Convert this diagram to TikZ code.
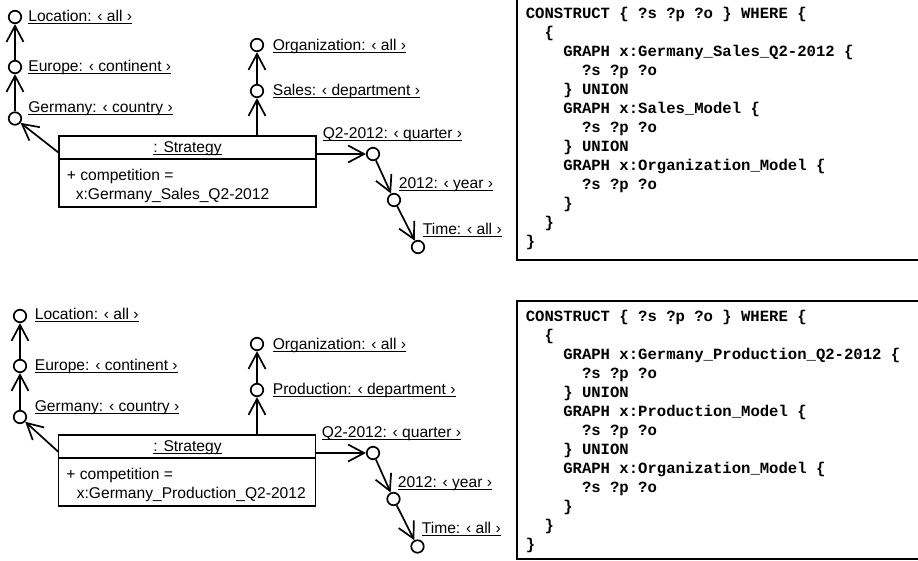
\documentclass[tikz,border=0pt]{standalone}
\usepackage{fontspec}
\setmainfont{Liberation Sans}
\newfontfamily\codefont{Liberation Mono}
\usetikzlibrary{arrows.meta}
\newsavebox\ulbox
\newcommand\ulbl[1]{\sbox\ulbox{#1}\rlap{\rule[-2.6pt]{\wd\ulbox}{1pt}}\usebox\ulbox}
\newcommand\indt[1]{\phantom{#1}}
\begin{document}
\begin{tikzpicture}[x=1pt,y=-1pt,line width=1.7pt,
  ball/.style={circle,draw,minimum size=12.5pt,inner sep=0pt},
  arr/.style={-{Straight Barb[length=16pt,width=17pt]}},
  lbl/.style={anchor=base west,inner sep=0pt,font=\fontsize{15.6}{18}\selectfont},
  objbox/.style={draw,anchor=north west,outer sep=0pt,inner sep=0pt,minimum width=257pt,minimum height=71pt},
  frame/.style={draw,anchor=north west,outer sep=0pt,inner sep=0pt,minimum width=420pt},
  code/.style={anchor=base west,inner sep=0pt,font=\codefont\bfseries\fontsize{15.6}{19}\selectfont}
]
\useasboundingbox (0,0) rectangle (918,560);

% ---------------- top diagram ----------------
\node[ball] (l1) at (15,17) {};
\node[ball] (e1) at (15,67) {};
\node[ball] (g1) at (15,118.5) {};
\node[lbl] (ll1) at (27.5,21) {\ulbl{Location: ‹ all ›}};
\node[lbl] (le1) at (27.5,71) {\ulbl{Europe: ‹ continent ›}};
\node[lbl] (lg1) at (27.5,112) {\ulbl{Germany: ‹ country ›}};

\node[ball] (o1) at (257,45) {};
\node[ball] (s1) at (257,91) {};
\node[lbl] (lo1) at (272,50.5) {\ulbl{Organization: ‹ all ›}};
\node[lbl] (ls1) at (272,95.5) {\ulbl{Sales: ‹ department ›}};

\node[ball] (q1) at (373,154) {};
\node[ball] (y1) at (394,200) {};
\node[ball] (t1) at (418,247) {};
\node[lbl] (lq1) at (322,138) {\ulbl{Q2-2012: ‹ quarter ›}};
\node[lbl] (ly1) at (398,188) {\ulbl{2012: ‹ year ›}};
\node[lbl] (lt1) at (422,234.5) {\ulbl{Time: ‹ all ›}};

\node[objbox] (b1) at (59,136) {};
\coordinate (d1) at (0,159);
\draw (b1.west |- d1) -- (b1.east |- d1);
\node[lbl,anchor=base] (bt1) at (187.5,152.5) {\ulbl{: Strategy}};
\node[lbl] (bc1) at (66,180) {+ competition =};
\node[lbl] (bx1) at (75,199) {x:Germany\_Sales\_Q2-2012};

\draw[arr] (e1) -- (l1);
\draw[arr] (g1) -- (e1);
\draw[arr] ([yshift=-17pt]b1.north west) -- (g1);
\draw[arr] ([xshift=198pt]b1.north west) -- (s1);
\draw[arr] (s1) -- (o1);
\draw[arr] ([yshift=-18pt]b1.north east) -- (q1);
\draw[arr] (q1) -- (y1);
\draw[arr] (y1) -- (t1);

\node[frame,minimum height=265pt] (f1) at (517,-5) {};
\node[code] (c1) at (525,18.5) {\vtop{\baselineskip=19pt
\hbox{CONSTRUCT \{ ?s ?p ?o \} WHERE \{}
\hbox{\indt{xx}\{}
\hbox{\indt{xxxx}GRAPH x:Germany\_Sales\_Q2-2012 \{}
\hbox{\indt{xxxxxx}?s ?p ?o}
\hbox{\indt{xxxx}\} UNION}
\hbox{\indt{xxxx}GRAPH x:Sales\_Model \{}
\hbox{\indt{xxxxxx}?s ?p ?o}
\hbox{\indt{xxxx}\} UNION}
\hbox{\indt{xxxx}GRAPH x:Organization\_Model \{}
\hbox{\indt{xxxxxx}?s ?p ?o}
\hbox{\indt{xxxx}\}}
\hbox{\indt{xx}\}}
\hbox{\}}}};

% ---------------- bottom diagram ----------------
\node[ball] (l2) at (20,316) {};
\node[ball] (e2) at (20,366) {};
\node[ball] (g2) at (20,417) {};
\node[lbl] (ll2) at (34,319.5) {\ulbl{Location: ‹ all ›}};
\node[lbl] (le2) at (34,370.2) {\ulbl{Europe: ‹ continent ›}};
\node[lbl] (lg2) at (34,411.2) {\ulbl{Germany: ‹ country ›}};

\node[ball] (o2) at (257,344) {};
\node[ball] (s2) at (257,390) {};
\node[lbl] (lo2) at (272,349.5) {\ulbl{Organization: ‹ all ›}};
\node[lbl] (ls2) at (272,394.5) {\ulbl{Production: ‹ department ›}};

\node[ball] (q2) at (373,453) {};
\node[ball] (y2) at (393.5,499) {};
\node[ball] (t2) at (417.5,546.5) {};
\node[lbl] (lq2) at (321,437) {\ulbl{Q2-2012: ‹ quarter ›}};
\node[lbl] (ly2) at (397,487) {\ulbl{2012: ‹ year ›}};
\node[lbl] (lt2) at (421,533.5) {\ulbl{Time: ‹ all ›}};

\node[objbox] (b2) at (58.5,435) {};
\coordinate (d2) at (0,458);
\draw (b2.west |- d2) -- (b2.east |- d2);
\node[lbl,anchor=base] (bt2) at (187.5,451.3) {\ulbl{: Strategy}};
\node[lbl] (bc2) at (65.5,479.5) {+ competition =};
\node[lbl] (bx2) at (76,498.5) {x:Germany\_Production\_Q2-2012};

\draw[arr] (e2) -- (l2);
\draw[arr] (g2) -- (e2);
\draw[arr] ([yshift=-17pt]b2.north west) -- (g2);
\draw[arr] ([xshift=198.5pt]b2.north west) -- (s2);
\draw[arr] (s2) -- (o2);
\draw[arr] ([yshift=-18pt]b2.north east) -- (q2);
\draw[arr] (q2) -- (y2);
\draw[arr] (y2) -- (t2);

\node[frame,minimum height=258pt] (f2) at (517,301) {};
\node[code] (c2) at (525,321.5) {\vtop{\baselineskip=19pt
\hbox{CONSTRUCT \{ ?s ?p ?o \} WHERE \{}
\hbox{\indt{xx}\{}
\hbox{\indt{xxxx}GRAPH x:Germany\_Production\_Q2-2012 \{}
\hbox{\indt{xxxxxx}?s ?p ?o}
\hbox{\indt{xxxx}\} UNION}
\hbox{\indt{xxxx}GRAPH x:Production\_Model \{}
\hbox{\indt{xxxxxx}?s ?p ?o}
\hbox{\indt{xxxx}\} UNION}
\hbox{\indt{xxxx}GRAPH x:Organization\_Model \{}
\hbox{\indt{xxxxxx}?s ?p ?o}
\hbox{\indt{xxxx}\}}
\hbox{\indt{xx}\}}
\hbox{\}}}};
\end{tikzpicture}
\end{document}
